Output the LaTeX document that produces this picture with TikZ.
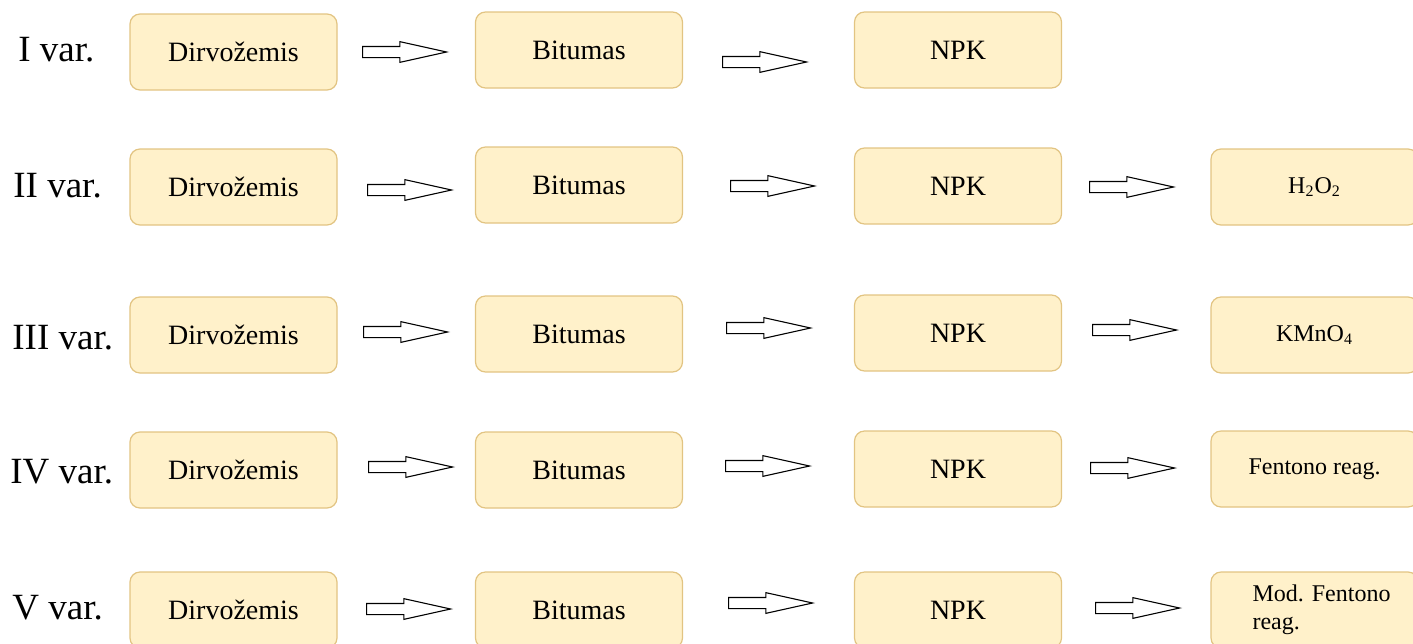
\documentclass[tikz,border=0pt]{standalone}
\usepackage{fontspec}
\setmainfont{Liberation Serif}
\usepackage{tikz}
\usetikzlibrary{shapes.arrows}

\definecolor{boxfill}{RGB}{255,241,202}
\definecolor{boxline}{RGB}{226,196,130}

\begin{document}
\begin{tikzpicture}[x=0.5pt, y=-0.5pt,
        box/.style = {draw=boxline, fill=boxfill, rounded corners=5pt, line width=0.6pt,
                      minimum width=103.5pt, minimum height=38pt, inner sep=0pt,
                      font=\fontsize{14}{16}\selectfont},
        small/.style = {font=\fontsize{12}{14}\selectfont},
        var/.style = {anchor=west, inner sep=0pt, font=\fontsize{18.5}{20}\selectfont},
        barrow/.style = {draw, single arrow, anchor=tail, line width=0.55pt, inner sep=0pt,
                         text height=2.5pt, text depth=2.5pt, text width=0pt,
                         minimum height=42pt, minimum width=9.5pt,
                         single arrow tip angle=25, single arrow head extend=2.4pt}
        ]
        \useasboundingbox (0,0) rectangle (1413,643);
        \clip (0,0) rectangle (1413,643);

        % labels
        \node[var] (v1) at (18,50) {I var.};
        \node[var] (v2) at (13,186) {II var.};
        \node[var] (v3) at (12,338) {III var.};
        \node[var] (v4) at (10,472) {IV var.};
        \node[var] (v5) at (12,608) {V var.};

        % first variant
        \node[box] (d1) at (233.5,52) {Dirvožemis};
        \node[box] (b1) at (579,50) {Bitumas};
        \node[box] (n1) at (958,50) {NPK};

        % second variant
        \node[box] (d2) at (233.5,187) {Dirvožemis};
        \node[box] (b2) at (579,185) {Bitumas};
        \node[box] (n2) at (958,186) {NPK};
        \node[box, small] (h2) at (1314.5,187) {H\textsubscript{2}O\textsubscript{2}};

        % third variant
        \node[box] (d3) at (233.5,335) {Dirvožemis};
        \node[box] (b3) at (579,334) {Bitumas};
        \node[box] (n3) at (958,333) {NPK};
        \node[box, small] (k3) at (1314.5,335) {KMnO\textsubscript{4}};

        % fourth variant
        \node[box] (d4) at (233.5,470) {Dirvožemis};
        \node[box] (b4) at (579,470) {Bitumas};
        \node[box] (n4) at (958,469) {NPK};
        \node[box, small] (f4) at (1314.5,469) {Fentono reag.};

        % fifth variant
        \node[box] (d5) at (233.5,610) {Dirvožemis};
        \node[box] (b5) at (579,610) {Bitumas};
        \node[box] (n5) at (958,610) {NPK};
        \node[box, small, align=left, text width=62pt] (m5) at (1314.5,610)
            {\makebox[62pt][l]{Mod.\ Fentono}\\reag.};

        % arrows
        \node[barrow] (a11) at (362,52) {};
        \node[barrow] (a12) at (722,62) {};

        \node[barrow] (a21) at (367,190) {};
        \node[barrow] (a22) at (730,186) {};
        \node[barrow] (a23) at (1089,187) {};

        \node[barrow] (a31) at (363,332) {};
        \node[barrow] (a32) at (726,328) {};
        \node[barrow] (a33) at (1092,330) {};

        \node[barrow] (a41) at (368,467) {};
        \node[barrow] (a42) at (725,466) {};
        \node[barrow] (a43) at (1090,468) {};

        \node[barrow] (a51) at (366,609) {};
        \node[barrow] (a52) at (728,603) {};
        \node[barrow] (a53) at (1095,608) {};

    \end{tikzpicture}
\end{document}
